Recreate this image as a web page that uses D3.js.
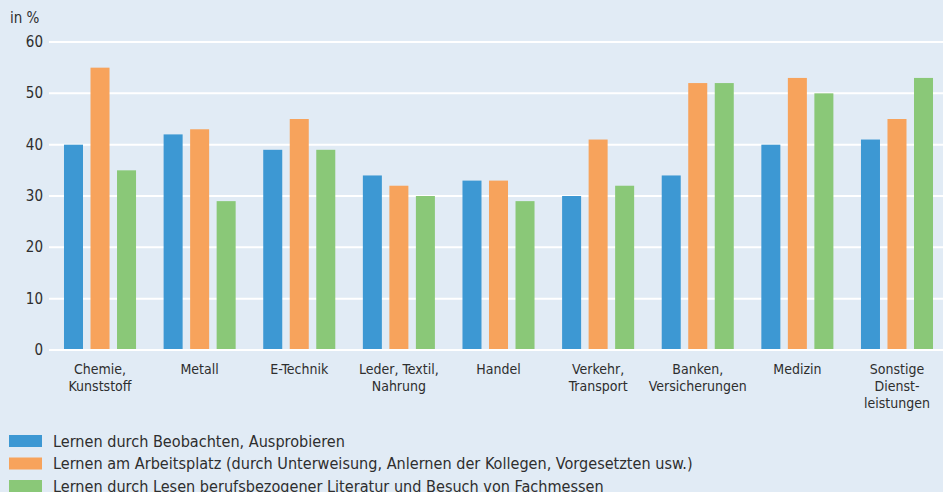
<!DOCTYPE html>
<html><head><meta charset="utf-8">
<script src="https://cdn.jsdelivr.net/npm/d3@7"></script>
<style>
html,body{margin:0;padding:0;background:#e1ebf5;}
svg{display:block;}
text{font-family:"DejaVu Sans Condensed","DejaVu Sans",sans-serif;fill:#2e2e2e;}
</style></head><body>
<svg id="chart" width="943" height="492"></svg>
<script>
const categories = ["Chemie,\nKunststoff","Metall","E-Technik","Leder, Textil,\nNahrung","Handel","Verkehr,\nTransport","Banken,\nVersicherungen","Medizin","Sonstige\nDienst-\nleistungen"];
const seriesNames = [
  "Lernen durch Beobachten, Ausprobieren",
  "Lernen am Arbeitsplatz (durch Unterweisung, Anlernen der Kollegen, Vorgesetzten usw.)",
  "Lernen durch Lesen berufsbezogener Literatur und Besuch von Fachmessen"
];
const beobachten = [40, 42, 39, 34, 33, 30, 34, 40, 41];
const arbeitsplatz = [55, 43, 45, 32, 33, 41, 52, 53, 45];
const lesen = [35, 29, 39, 30, 29, 32, 52, 50, 53];
const yTicks = [0, 10, 20, 30, 40, 50, 60];
const colors = ["#3d98d3", "#f7a35c", "#8ac878"];

const series = [beobachten, arbeitsplatz, lesen];
const svg = d3.select("#chart");
svg.append("rect").attr("width", 943).attr("height", 492).attr("fill", "#e1ebf5");

const y = d3.scaleLinear().domain([0, 60]).range([350, 42]);
const x0 = d3.scaleBand().domain(categories).range([50.2, 946.8]).padding(0);
const x1 = d3.scaleBand().domain([0, 1, 2]).range([0, x0.bandwidth()]).paddingInner(0.283).paddingOuter(0.52);

// gridlines
svg.append("g").selectAll("line").data(yTicks).join("line")
  .attr("x1", 49).attr("x2", 943)
  .attr("y1", d => y(d)).attr("y2", d => y(d))
  .attr("stroke", "#ffffff").attr("stroke-width", 2);

// y tick labels
svg.append("g").selectAll("text").data(yTicks).join("text")
  .attr("x", 43).attr("y", d => y(d) + 5)
  .attr("text-anchor", "end").attr("font-size", 15)
  .text(d => d);

svg.append("text").attr("x", 10).attr("y", 23).attr("font-size", 15).text("in %");

// bars
const groups = svg.append("g").selectAll("g").data(categories).join("g")
  .attr("transform", d => `translate(${x0(d)},0)`);
groups.selectAll("rect")
  .data((d, i) => series.map((s, k) => ({k, v: s[i]})))
  .join("rect")
  .attr("x", d => x1(d.k))
  .attr("width", x1.bandwidth())
  .attr("y", d => y(d.v))
  .attr("height", d => y(0) - y(d.v) - 1)
  .attr("fill", d => colors[d.k]);

// category labels
groups.append("text")
  .attr("text-anchor", "middle").attr("font-size", 14)
  .attr("transform", `translate(${x0.bandwidth() / 2},0)`)
  .selectAll("tspan").data(d => d.split("\n")).join("tspan")
  .attr("x", 0).attr("y", (d, i) => 374 + i * 17)
  .text(d => d);

// legend
const leg = svg.append("g").selectAll("g").data(seriesNames).join("g")
  .attr("transform", (d, i) => `translate(0,${435 + i * 22.5})`);
leg.append("rect").attr("x", 9).attr("y", 0).attr("width", 33).attr("height", 12)
  .attr("fill", (d, i) => colors[i]);
leg.append("text").attr("x", 53).attr("y", 11.5).attr("font-size", 16.1).text(d => d);
</script>
</body></html>
